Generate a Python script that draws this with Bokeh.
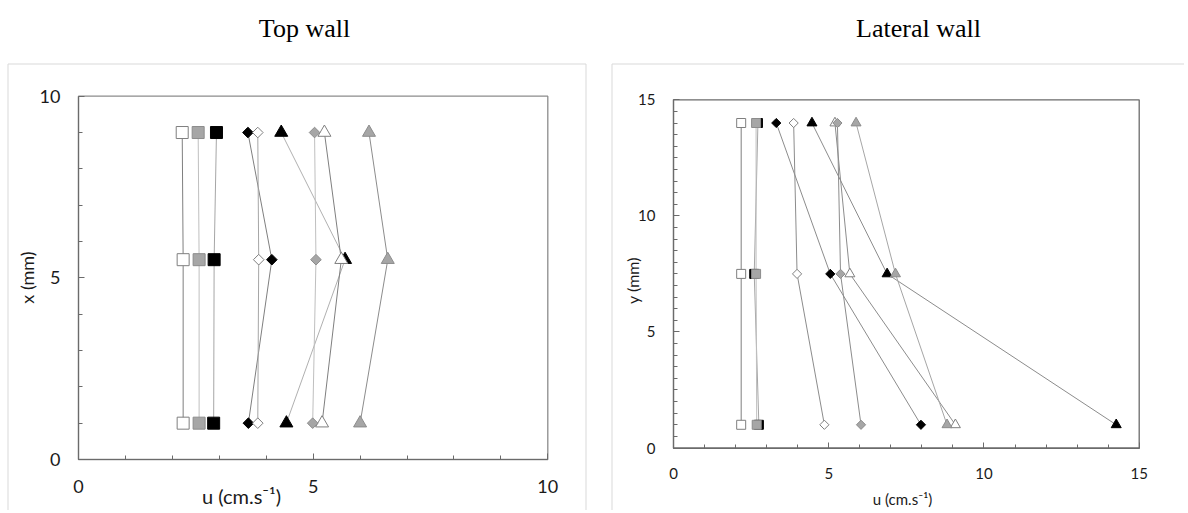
import numpy as np
from bokeh.plotting import figure
from bokeh.models import Range1d, FixedTicker, Label, BoxAnnotation
from bokeh.layouts import row
from bokeh.embed import file_html
from bokeh.resources import INLINE

# ---------------- data ----------------
top_title = "Top wall"
lat_title = "Lateral wall"
x_label = "u (cm.s\u207b\u00b9)"
top_ylabel = "x (mm)"
lat_ylabel = "y (mm)"

# Top wall: positions x (mm)
top_pos = [1, 5.5, 9]
top_white_square = [2.23, 2.23, 2.21]
top_gray_square = [2.57, 2.57, 2.55]
top_black_square = [2.88, 2.89, 2.94]
top_black_diamond = [3.62, 4.12, 3.61]
top_white_diamond = [3.82, 3.84, 3.82]
top_black_triangle = [4.43, 5.68, 4.32]
top_gray_diamond = [4.99, 5.06, 5.03]
top_white_triangle = [5.19, 5.60, 5.24]
top_gray_triangle = [6.00, 6.59, 6.19]

# Lateral wall: positions y (mm)
lat_pos = [1, 7.5, 14]
lat_white_square = [2.18, 2.18, 2.18]
lat_gray_square = [2.68, 2.66, 2.66]
lat_black_square = [2.75, 2.60, 2.72]
lat_white_diamond = [4.86, 3.98, 3.87]
lat_gray_diamond = [6.04, 5.38, 5.28]
lat_black_diamond = [7.97, 5.05, 3.31]
lat_gray_triangle = [8.81, 7.15, 5.88]
lat_white_triangle = [9.08, 5.68, 5.20]
lat_black_triangle = [14.26, 6.88, 4.46]

top_major = [0, 5, 10]
top_minor = [1, 2, 3, 4, 6, 7, 8, 9]
lat_major = [0, 5, 10, 15]
lat_minor_x = [1, 2, 3, 4, 6, 7, 8, 9, 11, 12, 13, 14]
lat_minor_y = [0.5, 1, 1.5, 2, 2.5, 3, 3.5, 4, 4.5, 5.5, 6, 6.5, 7, 7.5, 8, 8.5, 9, 9.5,
               10.5, 11, 11.5, 12, 12.5, 13, 13.5, 14, 14.5]

# ---------------- styles ----------------
FILL = {"white": "white", "gray": "#a6a6a6", "black": "black"}
EDGE = {"white": "#7f7f7f", "gray": "#8c8c8c", "black": "black"}
FONT = "Lato"
H = 510

top_series = [
    (top_black_square, "square", "black", "#a6a6a6"),
    (top_black_diamond, "diamond", "black", "#7f7f7f"),
    (top_black_triangle, "triangle", "black", "#b0b0b0"),
    (top_white_square, "square", "white", "#7f7f7f"),
    (top_white_diamond, "diamond", "white", "#a6a6a6"),
    (top_white_triangle, "triangle", "white", "#7f7f7f"),
    (top_gray_square, "square", "gray", "#bfbfbf"),
    (top_gray_diamond, "diamond", "gray", "#bfbfbf"),
    (top_gray_triangle, "triangle", "gray", "#8c8c8c"),
]
lat_series = [
    (lat_black_square, "square", "black", "#a6a6a6"),
    (lat_black_diamond, "diamond", "black", "#8c8c8c"),
    (lat_black_triangle, "triangle", "black", "#8c8c8c"),
    (lat_white_square, "square", "white", "#7f7f7f"),
    (lat_white_diamond, "diamond", "white", "#8c8c8c"),
    (lat_white_triangle, "triangle", "white", "#8c8c8c"),
    (lat_gray_square, "square", "gray", "#bfbfbf"),
    (lat_gray_diamond, "diamond", "gray", "#8c8c8c"),
    (lat_gray_triangle, "triangle", "gray", "#a6a6a6"),
]


def panel(series, pos, xmax, ymax, xmajor, xminor, ymajor, yminor, geom, W,
          sizes, tick_font, title, ylabel, outer_px, title_px,
          ylabel_px, ylabel_font, xlabel_px, xlabel_font, title_font, frame_col):
    # geom: page x of canvas left, page px of axis origin and of (xmax, ymax)
    cx0, ox, oy, ex, ey = geom
    cy0 = 0
    kx = (ex - ox) / xmax
    ky = (oy - ey) / ymax

    def dx(px):
        return (px - ox) / kx

    def dy(py):
        return (oy - py) / ky

    p = figure(width=W, height=H, output_backend="svg", toolbar_location=None,
               x_range=Range1d(dx(cx0), dx(cx0 + W)), y_range=Range1d(dy(cy0 + H), dy(cy0)),
               min_border=0)
    p.min_border_left = p.min_border_right = p.min_border_top = p.min_border_bottom = 0
    p.grid.visible = False
    p.background_fill_color = "white"
    p.border_fill_color = "white"
    p.outline_line_color = None

    p.xaxis.ticker = FixedTicker(ticks=xmajor, minor_ticks=xminor)
    p.yaxis.ticker = FixedTicker(ticks=ymajor, minor_ticks=yminor)
    p.xaxis.fixed_location = 0
    p.yaxis.fixed_location = 0
    p.xaxis.bounds = (0, xmax)
    p.yaxis.bounds = (0, ymax)
    for ax in (p.xaxis[0], p.yaxis[0]):
        ax.axis_line_color = "#6b6b6b"
        ax.axis_line_width = 1.2
        ax.major_tick_line_color = "#6b6b6b"
        ax.minor_tick_line_color = "#6b6b6b"
        ax.major_tick_in = 6
        ax.major_tick_out = 0
        ax.minor_tick_in = 4
        ax.minor_tick_out = 0
        ax.major_label_text_font = FONT
        ax.major_label_text_font_size = tick_font
        ax.major_label_text_color = "#1a1a1a"
    p.xaxis.major_label_standoff = 20
    p.yaxis.major_label_standoff = 18

    # outer chart-area border and plot-area border
    l, t, r = outer_px
    p.add_layout(BoxAnnotation(left=dx(l), right=dx(r), top=dy(t), bottom=dy(cy0 + H + 30),
                               fill_alpha=0, line_color="#d9d9d9", line_alpha=1,
                               line_width=1, level="underlay"))
    p.add_layout(BoxAnnotation(left=0, right=xmax, top=ymax, bottom=0, fill_alpha=0,
                               line_color=frame_col, line_alpha=1, line_width=1.3,
                               level="underlay"))

    sq, di, tr = sizes
    for vals, marker, col, lcol in series:
        p.line(vals, pos, line_color=lcol, line_width=1)
    for vals, marker, col, lcol in series:
        if marker == "square":
            p.scatter(vals, pos, marker="square", size=sq, fill_color=FILL[col],
                      line_color=EDGE[col], line_width=1)
        elif marker == "diamond":
            p.scatter(vals, pos, marker="square", angle=np.pi / 4, size=di,
                      fill_color=FILL[col], line_color=EDGE[col], line_width=1)
        else:
            p.scatter(vals, pos, marker="triangle", size=tr, fill_color=FILL[col],
                      line_color=EDGE[col], line_width=1)

    p.add_layout(Label(x=dx(title_px[0]), y=dy(title_px[1]), text=title, text_align="center",
                       text_baseline="middle", text_font="Liberation Serif",
                       text_font_size=title_font, text_color="black"))
    p.add_layout(Label(x=dx(ylabel_px[0]), y=dy(ylabel_px[1]), text=ylabel, angle=np.pi / 2,
                       text_align="center", text_baseline="middle", text_font=FONT,
                       text_font_size=ylabel_font, text_color="#1a1a1a"))
    p.add_layout(Label(x=dx(xlabel_px[0]), y=dy(xlabel_px[1]), text=x_label,
                       text_align="center", text_baseline="middle", text_font=FONT,
                       text_font_size=xlabel_font, text_color="#1a1a1a"))
    return p


p1 = panel(top_series, top_pos, 10, 10, top_major, top_minor, top_major, top_minor,
           (0, 78, 459, 547.3, 95.7), 594, (12, 7.5, 13), "18px", top_title, top_ylabel,
           (7.5, 63.5, 585.5), (304, 28), (26, 277), "18px", (241, 495), "20px", "26px",
           "#8c8c8c")
p2 = panel(lat_series, lat_pos, 15, 15, lat_major, lat_minor_x, lat_major, lat_minor_y,
           (594, 673, 447.5, 1138.7, 99.3), 590, (9, 6.5, 10), "15px", lat_title, lat_ylabel,
           (611.5, 63.5, 1200), (918, 28), (632, 280), "16px", (902, 498), "15px", "26px",
           "#6b6b6b")

layout = row(p1, p2, spacing=0)
open("out.html", "w").write(file_html(layout, INLINE))
